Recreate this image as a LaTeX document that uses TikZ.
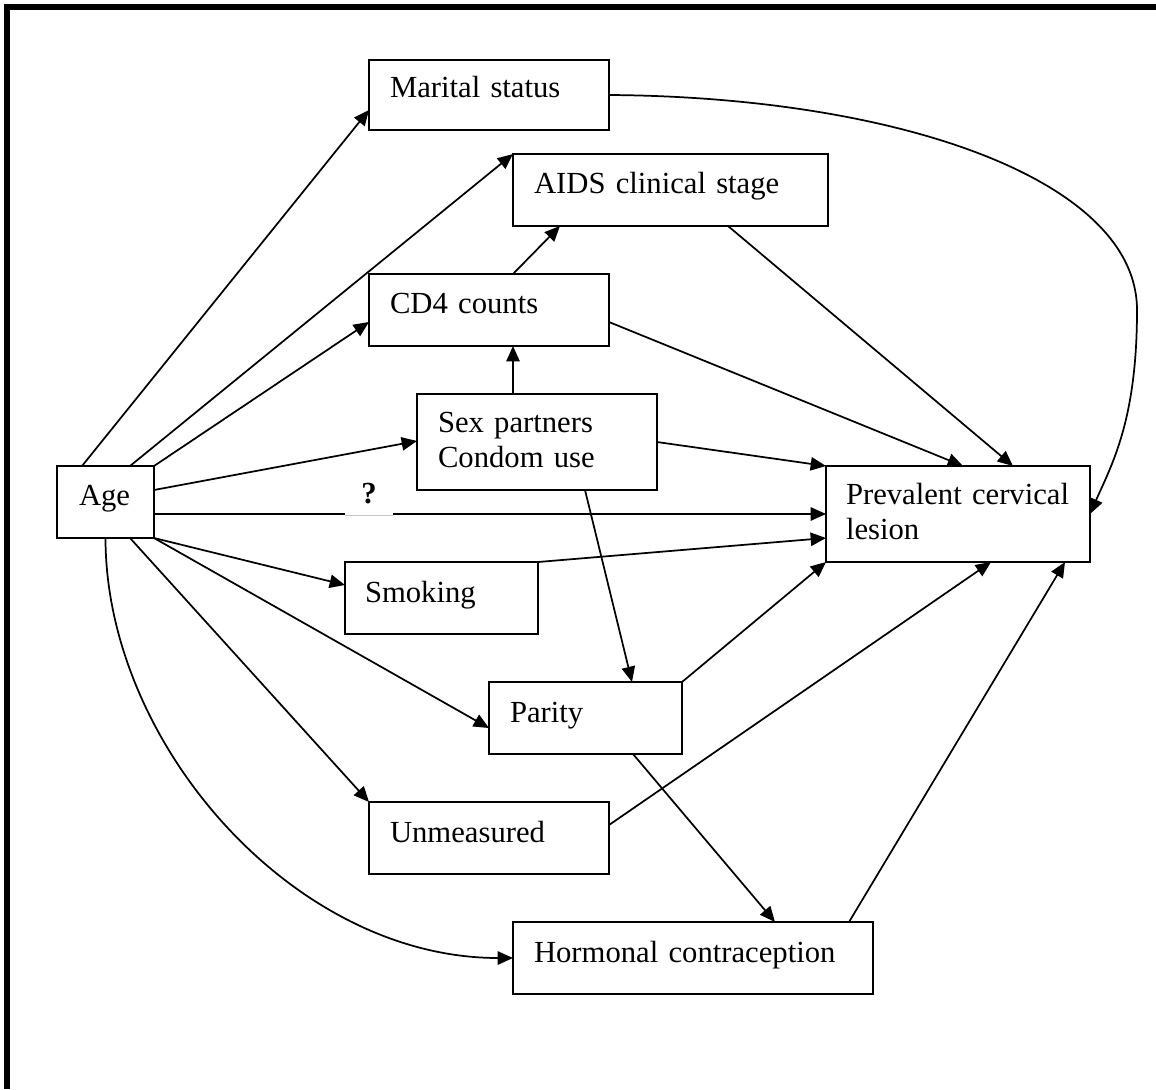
\documentclass[tikz,border=0pt]{standalone}
\usepackage{fontspec}
\setmainfont{Liberation Serif}
\usetikzlibrary{arrows.meta,calc}
\begin{document}
\begin{tikzpicture}[x=0.75pt,y=-0.75pt,
  box/.style={draw, line width=1.5pt, rectangle, anchor=north west, outer sep=0pt,
    inner ysep=0pt, align=left, font=\fontsize{23}{26.25}\selectfont},
  link/.style={line width=1.3pt, -{Triangle[length=11.5pt,width=10pt]}},
  qmark/.style={font=\fontsize{23}{26}\selectfont\bfseries, fill=white, inner sep=0pt,
    minimum width=36pt, text height=15pt, text depth=9pt, anchor=base}]
\useasboundingbox (0,0) rectangle (1156,1089);
% frame along the top and left edges
\draw[line width=4.5pt] (1156,7) -- (7,7) -- (7,1089);

% variables
\node[box, text width=148.5pt, inner xsep=15.75pt, text height=27.75pt, text depth=24.75pt] (marital) at (369,60) {Marital status};
\node[box, text width=204.75pt, inner xsep=15.75pt, text height=29.25pt, text depth=24.75pt] (aids) at (513,154) {AIDS clinical stage};
\node[box, text width=148.5pt, inner xsep=15.75pt, text height=29.25pt, text depth=24.75pt] (cd4) at (369,274) {CD4 counts};
\node[box, text width=148.5pt, inner xsep=15.75pt, text height=28.5pt, text depth=43.5pt] (sex) at (417,394) {Sex partners\\Condom use};
\node[box, text width=39.75pt, inner xsep=16.5pt, text height=29.25pt, text depth=24.75pt] (age) at (57,466) {Age};
\node[box, text width=168pt, inner xsep=15pt, text height=28.5pt, text depth=43.5pt] (pcl) at (826,466) {Prevalent cervical\\lesion};
\node[box, text width=114.75pt, inner xsep=15pt, text height=30pt, text depth=24pt] (smoking) at (345,562) {Smoking};
\node[box, text width=113.25pt, inner xsep=15.75pt, text height=30pt, text depth=24pt] (parity) at (489,682) {Parity};
\node[box, text width=148.5pt, inner xsep=15.75pt, text height=30pt, text depth=24pt] (unmeasured) at (369,802) {Unmeasured};
\node[box, text width=238.5pt, inner xsep=15.75pt, text height=30pt, text depth=24pt] (hormonal) at (513,922) {Hormonal contraception};

% paths from age
\draw[link] ($(age.north west)+(25,0)$) -- ($(marital.north west)+(0,50)$);
\draw[link] ($(age.north west)+(73,0)$) -- (aids.north west);
\draw[link] (age.north east) -- ($(cd4.north west)+(0,48)$);
\draw[link] ($(age.north east)+(0,24)$) -- ($(sex.north west)+(0,47)$);
\draw[link] ($(age.north east)+(0,48)$) -- (pcl.west);
\draw[link] (age.south east) -- ($(smoking.north west)+(0,23)$);
\draw[link] (age.south east) -- ($(parity.north west)+(0,46)$);
\draw[link] ($(age.south west)+(73,0)$) -- (unmeasured.north west);
\draw[link] (age.south) .. controls +(0,205) and +(-220,0) .. (hormonal.west);

% marital status to the outcome, round the right side
\coordinate (mbend) at (1137,310);
\draw[link] (marital.east) .. controls +(290,2) and +(0,-130) .. (mbend)
  .. controls +(0,110) and +(22,-50) .. (pcl.east);

% remaining paths
\draw[link] ($(aids.south west)+(215,0)$) -- ($(pcl.north west)+(187,0)$);
\draw[link] ($(cd4.north west)+(144,0)$) -- ($(aids.south west)+(47,0)$);
\draw[link] ($(sex.north west)+(96,0)$) -- ($(cd4.south west)+(144,0)$);
\draw[link] ($(cd4.north east)+(0,48)$) -- ($(pcl.north west)+(137,0)$);
\draw[link] (sex.east) -- (pcl.north west);
\draw[link] ($(sex.south west)+(168,0)$) -- ($(parity.north west)+(143,0)$);
\draw[link] (smoking.north east) -- ($(pcl.north west)+(0,72)$);
\draw[link] (parity.north east) -- (pcl.south west);
\draw[link] ($(parity.south west)+(144,0)$) -- ($(hormonal.north west)+(262,0)$);
\draw[link] ($(unmeasured.north east)+(0,23)$) -- ($(pcl.south west)+(165,0)$);
\draw[link] ($(hormonal.north west)+(336,0)$) -- ($(pcl.south west)+(239,0)$);

% question mark on the direct path
\node[qmark] (q) at (369,503) {?};
\draw[gray!45, line width=0.6pt] (q.south west) -- (q.south east);
\end{tikzpicture}
\end{document}
